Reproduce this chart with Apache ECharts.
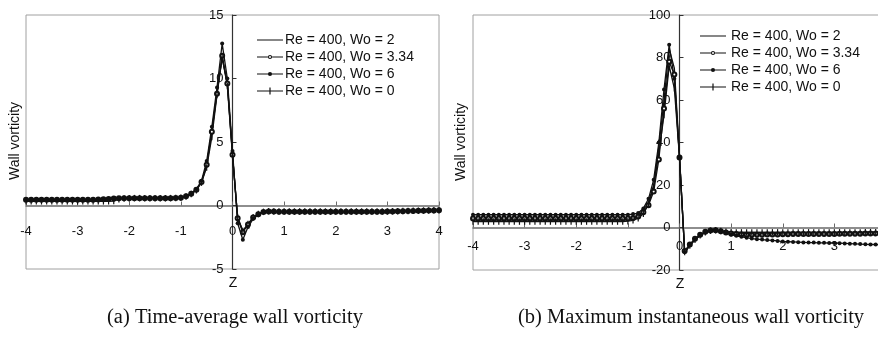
<!DOCTYPE html>
<html>
<head>
<meta charset="utf-8">
<script src="https://cdn.jsdelivr.net/npm/echarts@6/dist/echarts.min.js"></script>
<style>
  html, body { margin: 0; padding: 0; background: #fff; }
  #chart { width: 878px; height: 339px; }
</style>
</head>
<body>
<div id="chart"></div>
<script>
// axial position z, step 0.1 from -4 to 4
const zs = [
  -4.0, -3.9, -3.8, -3.7, -3.6, -3.5, -3.4, -3.3, -3.2, -3.1,
  -3.0, -2.9, -2.8, -2.7, -2.6, -2.5, -2.4, -2.3, -2.2, -2.1,
  -2.0, -1.9, -1.8, -1.7, -1.6, -1.5, -1.4, -1.3, -1.2, -1.1,
  -1.0, -0.9, -0.8, -0.7, -0.6, -0.5, -0.4, -0.3, -0.2, -0.1,
  0.0, 0.1, 0.2, 0.3, 0.4, 0.5, 0.6, 0.7, 0.8, 0.9,
  1.0, 1.1, 1.2, 1.3, 1.4, 1.5, 1.6, 1.7, 1.8, 1.9,
  2.0, 2.1, 2.2, 2.3, 2.4, 2.5, 2.6, 2.7, 2.8, 2.9,
  3.0, 3.1, 3.2, 3.3, 3.4, 3.5, 3.6, 3.7, 3.8, 3.9,
  4.0
]

const names = ['Re = 400, Wo = 2', 'Re = 400, Wo = 3.34', 'Re = 400, Wo = 6', 'Re = 400, Wo = 0']

// (a) time-average wall vorticity
const aWo2 = [
  0.45, 0.45, 0.45, 0.45, 0.45, 0.45, 0.45, 0.45, 0.45, 0.45,
  0.45, 0.45, 0.45, 0.45, 0.47, 0.5, 0.52, 0.55, 0.57, 0.58,
  0.58, 0.58, 0.58, 0.58, 0.58, 0.58, 0.58, 0.58, 0.58, 0.6,
  0.62, 0.72, 0.92, 1.25, 1.85, 3.2, 5.9, 8.9, 11.6, 9.6,
  4.0, -1.0, -2.0, -1.5, -0.95, -0.68, -0.52, -0.47, -0.48, -0.49,
  -0.49, -0.49, -0.49, -0.49, -0.49, -0.49, -0.49, -0.49, -0.49, -0.49,
  -0.49, -0.49, -0.49, -0.49, -0.49, -0.49, -0.49, -0.49, -0.49, -0.49,
  -0.48, -0.47, -0.46, -0.45, -0.44, -0.43, -0.42, -0.41, -0.4, -0.39,
  -0.38
]
const aWo334 = [
  0.45, 0.45, 0.45, 0.45, 0.45, 0.45, 0.45, 0.45, 0.45, 0.45,
  0.45, 0.45, 0.45, 0.45, 0.47, 0.5, 0.52, 0.55, 0.57, 0.58,
  0.58, 0.58, 0.58, 0.58, 0.58, 0.58, 0.58, 0.58, 0.58, 0.6,
  0.62, 0.72, 0.92, 1.25, 1.85, 3.2, 5.8, 8.8, 11.8, 9.6,
  4.0, -1.0, -2.1, -1.5, -0.95, -0.68, -0.52, -0.47, -0.48, -0.49,
  -0.49, -0.49, -0.49, -0.49, -0.49, -0.49, -0.49, -0.49, -0.49, -0.49,
  -0.49, -0.49, -0.49, -0.49, -0.49, -0.49, -0.49, -0.49, -0.49, -0.49,
  -0.48, -0.47, -0.46, -0.45, -0.44, -0.43, -0.42, -0.41, -0.4, -0.39,
  -0.38
]
const aWo6 = [
  0.48, 0.48, 0.48, 0.48, 0.48, 0.48, 0.48, 0.48, 0.48, 0.48,
  0.48, 0.48, 0.48, 0.48, 0.5, 0.5, 0.52, 0.55, 0.58, 0.58,
  0.58, 0.58, 0.58, 0.58, 0.58, 0.58, 0.58, 0.58, 0.58, 0.6,
  0.62, 0.74, 0.96, 1.3, 1.95, 3.5, 6.2, 9.3, 12.75, 10.0,
  4.3, -1.4, -2.7, -1.7, -1.05, -0.72, -0.52, -0.46, -0.47, -0.48,
  -0.48, -0.48, -0.48, -0.48, -0.48, -0.48, -0.48, -0.48, -0.48, -0.48,
  -0.48, -0.48, -0.48, -0.48, -0.48, -0.48, -0.48, -0.48, -0.48, -0.48,
  -0.47, -0.46, -0.45, -0.45, -0.44, -0.43, -0.42, -0.41, -0.4, -0.39,
  -0.38
]
const aWo0 = [
  0.33, 0.33, 0.33, 0.33, 0.33, 0.33, 0.33, 0.33, 0.33, 0.33,
  0.33, 0.33, 0.33, 0.33, 0.33, 0.33, 0.33, 0.35, 0.5, 0.56,
  0.58, 0.58, 0.58, 0.58, 0.58, 0.58, 0.58, 0.58, 0.58, 0.6,
  0.62, 0.7, 0.9, 1.2, 1.8, 3.0, 5.4, 8.7, 11.7, 9.4,
  3.9, -0.9, -2.0, -1.45, -0.92, -0.66, -0.5, -0.46, -0.47, -0.48,
  -0.48, -0.48, -0.48, -0.48, -0.48, -0.48, -0.48, -0.48, -0.48, -0.48,
  -0.48, -0.48, -0.48, -0.48, -0.48, -0.48, -0.48, -0.48, -0.48, -0.48,
  -0.47, -0.46, -0.45, -0.44, -0.43, -0.42, -0.41, -0.4, -0.39, -0.38,
  -0.37
]

// (b) maximum instantaneous wall vorticity
const bWo2 = [
  3.5, 3.5, 3.5, 3.5, 3.5, 3.5, 3.5, 3.5, 3.5, 3.5,
  3.5, 3.5, 3.5, 3.5, 3.5, 3.5, 3.5, 3.5, 3.5, 3.5,
  3.5, 3.5, 3.5, 3.5, 3.5, 3.5, 3.5, 3.5, 3.5, 3.5,
  3.6, 4.2, 5.5, 8.0, 12.0, 20.0, 38.0, 60.0, 84.0, 75.0,
  34.0, -12.0, -8.5, -5.8, -3.8, -2.3, -1.5, -1.3, -1.6, -2.0,
  -2.2, -2.3, -2.3, -2.3, -2.3, -2.3, -2.3, -2.3, -2.3, -2.3,
  -2.3, -2.3, -2.3, -2.3, -2.3, -2.3, -2.3, -2.3, -2.3, -2.3,
  -2.3, -2.3, -2.3, -2.3, -2.3, -2.3, -2.3, -2.3, -2.3, -2.3,
  -2.3
]
const bWo334 = [
  4.2, 4.2, 4.2, 4.2, 4.2, 4.2, 4.2, 4.2, 4.2, 4.2,
  4.2, 4.2, 4.2, 4.2, 4.2, 4.2, 4.2, 4.2, 4.2, 4.2,
  4.2, 4.2, 4.2, 4.2, 4.2, 4.2, 4.2, 4.2, 4.2, 4.2,
  4.2, 4.5, 5.2, 7.2, 10.5, 17.0, 32.0, 56.0, 78.0, 72.0,
  33.0, -11.0, -8.0, -5.3, -3.4, -2.0, -1.4, -1.3, -1.8, -2.4,
  -2.8, -3.1, -3.3, -3.4, -3.4, -3.4, -3.4, -3.3, -3.3, -3.3,
  -3.2, -3.2, -3.1, -3.1, -3.1, -3.0, -3.0, -3.0, -3.0, -3.0,
  -3.0, -2.9, -2.9, -2.9, -2.9, -2.9, -2.8, -2.8, -2.8, -2.8,
  -2.8
]
const bWo6 = [
  6.0, 6.0, 6.0, 6.0, 6.0, 6.0, 6.0, 6.0, 6.0, 6.0,
  6.0, 6.0, 6.0, 6.0, 6.0, 6.0, 6.0, 6.0, 6.0, 6.0,
  6.0, 6.0, 6.0, 6.0, 6.0, 6.0, 6.0, 6.0, 6.0, 6.0,
  6.0, 6.3, 6.8, 9.0, 13.5, 22.5, 40.0, 65.0, 86.0, 70.0,
  33.0, -11.5, -8.0, -5.5, -3.5, -2.2, -1.5, -1.3, -1.8, -2.6,
  -3.4, -3.9, -4.4, -4.8, -5.2, -5.5, -5.7, -5.9, -6.1, -6.3,
  -6.6, -6.7, -6.8, -6.9, -7.0, -7.1, -7.1, -7.2, -7.2, -7.3,
  -7.3, -7.4, -7.5, -7.6, -7.7, -7.8, -7.9, -8.0, -8.0, -8.1,
  -8.2
]
const bWo0 = [
  2.8, 2.8, 2.8, 2.8, 2.8, 2.8, 2.8, 2.8, 2.8, 2.8,
  2.8, 2.8, 2.8, 2.8, 2.8, 2.8, 2.8, 2.8, 2.8, 2.8,
  2.8, 2.8, 2.8, 2.8, 2.8, 2.8, 2.8, 2.8, 2.8, 2.8,
  3.0, 3.4, 4.4, 6.5, 11.0, 19.0, 35.0, 53.0, 76.0, 65.5,
  33.0, -11.5, -8.5, -5.8, -3.6, -2.2, -1.5, -1.3, -1.6, -2.0,
  -2.2, -2.3, -2.3, -2.3, -2.3, -2.3, -2.3, -2.3, -2.3, -2.3,
  -2.3, -2.3, -2.3, -2.3, -2.3, -2.3, -2.3, -2.3, -2.3, -2.3,
  -2.3, -2.3, -2.3, -2.3, -2.3, -2.3, -2.2, -2.2, -2.2, -2.2,
  -2.2
]

const ink = '#111'
const font = 'Liberation Sans, Arial, sans-serif'
const serif = 'Liberation Serif, Times New Roman, serif'

// marker look per series, same order as names
const markers = [
  { symbol: 'none', symbolSize: 0, border: 0 },
  { symbol: 'emptyCircle', symbolSize: 4, border: 1 },
  { symbol: 'circle', symbolSize: 4, border: 0 },
  { symbol: 'rect', symbolSize: [1.2, 6.5], border: 0 }
]

// legend icons: 26 x 8 box, tiny corner specks keep the box size
const box = 'M0,0 L0.01,0 L0,0.01 Z M26,8 L25.99,8 L26,7.99 Z '
const fullLine = 'M0,3.4 L26,3.4 L26,4.6 L0,4.6 Z '
const icons = [
  'path://' + box + fullLine,
  'path://' + box + 'M0,3.4 L10.9,3.4 L10.9,4.6 L0,4.6 Z M15.1,3.4 L26,3.4 L26,4.6 L15.1,4.6 Z ' +
    'M10.9,4 A2.1,2.1 0 1,1 15.1,4 A2.1,2.1 0 1,1 10.9,4 Z M12,4 A1,1 0 1,0 14,4 A1,1 0 1,0 12,4 Z',
  'path://' + box + fullLine + 'M10.9,4 A2.1,2.1 0 1,1 15.1,4 A2.1,2.1 0 1,1 10.9,4 Z',
  'path://' + box + fullLine + 'M12.4,0.6 L13.6,0.6 L13.6,7.4 L12.4,7.4 Z'
]

const makeSeries = (vals, k, gi) => ({
  name: names[k],
  type: 'line',
  xAxisIndex: gi,
  yAxisIndex: gi,
  data: zs.map((z, i) => [z, vals[i]]),
  symbol: markers[k].symbol,
  symbolSize: markers[k].symbolSize,
  showSymbol: markers[k].symbol !== 'none',
  lineStyle: { color: ink, width: 1.3 },
  itemStyle: { color: ink, borderColor: ink, borderWidth: markers[k].border },
  animation: false,
  z: 3
})

const legendOf = (left, top, pad) => ({
  orient: 'vertical',
  left: left,
  top: top,
  itemWidth: 26,
  itemHeight: 8,
  itemGap: 3,
  itemStyle: { borderWidth: 0 },
  textStyle: { fontSize: 14, fontFamily: font, color: ink, padding: [0, 0, 0, pad] },
  data: names.map((n, k) => ({ name: n, icon: icons[k] }))
})

// axes are shifted with offset so line, ticks and labels sit on zero
const xAxisOf = (gi, margin, offset) => ({
  type: 'value',
  gridIndex: gi,
  min: -4,
  max: 4,
  interval: 1,
  position: 'bottom',
  offset: offset,
  axisLine: { onZero: false, lineStyle: { color: '#6a6a6a', width: 1.5 } },
  axisTick: { show: true, inside: true, length: 4, lineStyle: { color: '#6a6a6a' } },
  axisLabel: { margin: margin, fontSize: 13, fontFamily: font, color: ink },
  splitLine: { show: false }
})

const yAxisOf = (gi, min, max, interval, offset) => ({
  type: 'value',
  gridIndex: gi,
  min: min,
  max: max,
  interval: interval,
  position: 'left',
  offset: offset,
  axisLine: { show: true, onZero: false, lineStyle: { color: '#333', width: 1.2 } },
  axisTick: { show: true, inside: true, length: 4, lineStyle: { color: '#333' } },
  axisLabel: { margin: 9, fontSize: 13, fontFamily: font, color: ink },
  splitLine: { show: false }
})

const textEl = (x, y, text, extra) => ({
  type: 'text',
  x: x,
  y: y,
  style: Object.assign({ text: text, fill: ink, font: '14px ' + font, textAlign: 'center', textVerticalAlign: 'middle' }, extra || {})
})

const chart = echarts.init(document.getElementById('chart'))
const option = {
  backgroundColor: '#fff',
  animation: false,
  legend: [legendOf(252, 28, -3), legendOf(695, 24, 0)],
  grid: [
    { left: 26, right: 439, top: 15, bottom: 70, outerBoundsMode: 'none', show: true, borderColor: '#a0a0a0', borderWidth: 1 },
    { left: 473, right: -8, top: 15, bottom: 69, outerBoundsMode: 'none', show: true, borderColor: '#a0a0a0', borderWidth: 1 }
  ],
  xAxis: [xAxisOf(0, 19, -63.5), xAxisOf(1, 12, -42.5)],
  yAxis: [yAxisOf(0, -5, 15, 5, -206.5), yAxisOf(1, -20, 100, 20, -206.5)],
  graphic: [
    textEl(233, 283, 'Z'),
    textEl(680, 284, 'Z'),
    Object.assign(textEl(15, 141, 'Wall vorticity'), { rotation: Math.PI / 2 }),
    Object.assign(textEl(461, 142, 'Wall vorticity'), { rotation: Math.PI / 2 }),
    textEl(235, 318, '(a) Time-average wall vorticity', { font: '20.5px ' + serif }),
    textEl(691, 318, '(b) Maximum instantaneous wall vorticity', { font: '20.5px ' + serif })
  ],
  series: [
    makeSeries(aWo2, 0, 0), makeSeries(aWo334, 1, 0), makeSeries(aWo6, 2, 0), makeSeries(aWo0, 3, 0),
    makeSeries(bWo2, 0, 1), makeSeries(bWo334, 1, 1), makeSeries(bWo6, 2, 1), makeSeries(bWo0, 3, 1)
  ]
}
option && chart.setOption(option)
</script>
</body>
</html>
